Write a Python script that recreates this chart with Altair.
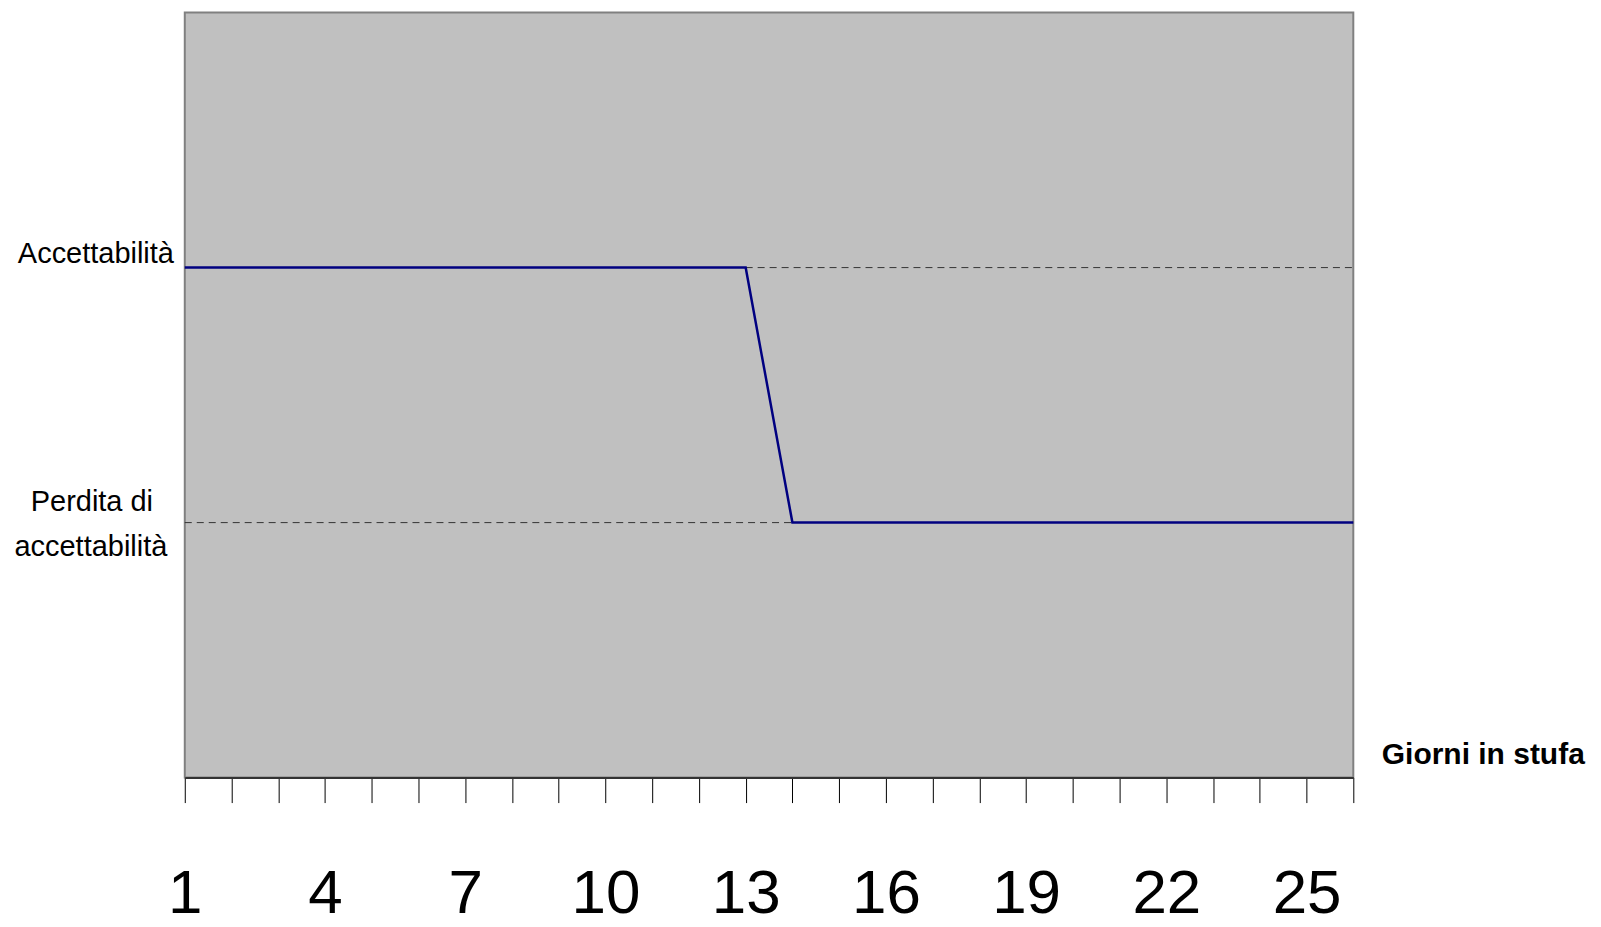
import altair as alt
import pandas as pd

days = list(range(1, 27))
levels = [2] * 13 + [1] * 13

ref_levels = [2, 1]
ref_start = [13, 1]
ref_end = [26, 14]

label_levels = [2, 1, 1]
label_texts = ["Accettabilità", "Perdita di", "accettabilità"]

tick_values = list(range(1, 27))

FONT = "Liberation Sans"

line_df = pd.DataFrame({"day": days, "level": levels})
ref_df = pd.DataFrame({"level": ref_levels, "start": ref_start, "end": ref_end})
lab_a = pd.DataFrame({"level": [label_levels[0]], "text": [label_texts[0]]})
lab_b = pd.DataFrame({"level": [label_levels[1]], "text": [label_texts[1]]})
lab_c = pd.DataFrame({"level": [label_levels[2]], "text": [label_texts[2]]})

xscale = alt.Scale(domain=[1, 26], nice=False, zero=False)
yscale = alt.Scale(domain=[0, 3], nice=False, zero=False)

xaxis = alt.Axis(
    values=tick_values,
    labelExpr="datum.value % 3 == 1 ? datum.label : ''",
    grid=False,
    tickSize=25,
    tickColor="#000000",
    tickWidth=1,
    domainColor="#333333",
    domainWidth=2,
    labelFont=FONT,
    labelFontSize=62,
    labelColor="#000000",
    labelBaseline="alphabetic",
    labelPadding=110,
    labelFlush=False,
    labelOverlap=False,
    title="Giorni in stufa",
    titleFont=FONT,
    titleFontSize=30,
    titleFontWeight="bold",
    titleColor="#000000",
    titleX=1198,
    titleY=-23,
    titleAlign="left",
    titleBaseline="middle",
)

base_line = alt.Chart(line_df).mark_line(color="#000080", strokeWidth=2.5).encode(
    x=alt.X("day:Q", scale=xscale, axis=xaxis),
    y=alt.Y("level:Q", scale=yscale, axis=None),
)

refs = alt.Chart(ref_df).mark_rule(color="#333333", strokeWidth=1, strokeDash=[7, 5]).encode(
    x=alt.X("start:Q", scale=xscale, axis=xaxis),
    x2=alt.X2("end:Q"),
    y=alt.Y("level:Q", scale=yscale, axis=None),
)

def label(df, dx, dy):
    return alt.Chart(df).mark_text(
        font=FONT, fontSize=29, align="center", baseline="alphabetic", dy=dy, color="#000000"
    ).encode(
        x=alt.value(dx),
        y=alt.Y("level:Q", scale=yscale, axis=None),
        text=alt.Text("text:N"),
    )

t1 = label(lab_a, -89, -5)
t2 = label(lab_b, -93, -12)
t3 = label(lab_c, -94, 33)

chart = alt.layer(refs, base_line, t1, t2, t3).properties(
    width=1170,
    height=766,
    background="#FFFFFF",
    autosize=alt.AutoSizeParams(type="none"),
    padding={"left": 177, "top": 4, "right": 240, "bottom": 148},
).configure_view(
    fill="#C0C0C0", stroke="#808080", strokeWidth=2
)

chart.save("out.html", embed_options={"renderer": "svg", "actions": False})
